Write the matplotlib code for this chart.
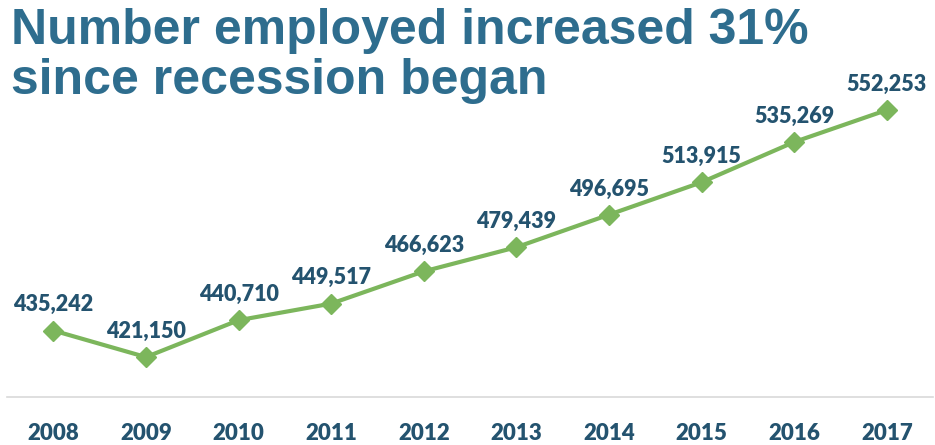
import matplotlib.pyplot as plt

# Data
years = ['2008', '2009', '2010', '2011', '2012', '2013', '2014', '2015', '2016', '2017']
employed = [435242, 421150, 440710, 449517, 466623, 479439, 496695, 513915, 535269, 552253]

fig = plt.figure(figsize=(9.35, 4.45), dpi=100)
ax = fig.add_axes([0.0075, 0.108, 0.9905, 0.847])

x = range(len(years))
ax.plot(x, employed, color='#7cb65c', lw=3, marker='D', ms=10, mfc='#7cb65c', mec='#7cb65c', zorder=3)

for i, v in zip(x, employed):
    ax.annotate(f'{v:,}', (i, v), xytext=(0, 11), textcoords='offset points',
                ha='center', va='bottom', fontsize=15.5, fontweight='heavy',
                color='#24536f', family='Lato')

ax.set_xlim(-0.5, len(years) - 0.5)
ax.set_ylim(400000, 600000)
ax.set_xticks(list(x))
ax.set_xticklabels(years, fontsize=16, fontweight='heavy', color='#24536f', family='Lato')
ax.tick_params(axis='x', length=0, pad=19)
ax.set_yticks([])
for s in ['top', 'left', 'right']:
    ax.spines[s].set_visible(False)
ax.spines['bottom'].set_color('#d9d9d9')
ax.spines['bottom'].set_linewidth(1.2)

fig.text(0.012, 0.982, 'Number employed increased 31%\nsince recession began',
         ha='left', va='top', fontsize=36, fontweight='bold', color='#2e6d8e',
         family='Liberation Sans', linespacing=1.1)

fig.savefig('out.png', dpi=100)
